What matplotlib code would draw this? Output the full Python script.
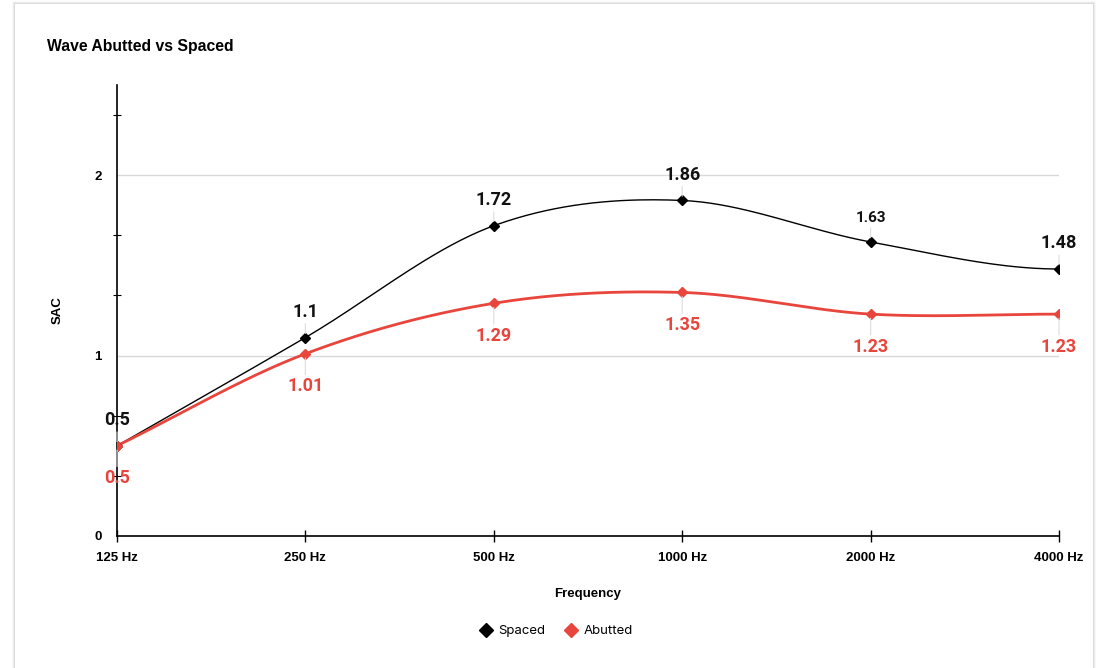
import numpy as np
import matplotlib.pyplot as plt
from matplotlib.lines import Line2D
from matplotlib.patches import Rectangle

FREQS = ["125 Hz", "250 Hz", "500 Hz", "1000 Hz", "2000 Hz", "4000 Hz"]
SPACED = [0.5, 1.1, 1.72, 1.86, 1.63, 1.48]
ABUTTED = [0.5, 1.01, 1.29, 1.35, 1.23, 1.23]
SPACED_LABEL_SIZES = [13, 13, 13, 13, 11, 13]

BLACK = "#000000"
RED = "#e8453c"


def smooth(y, n=40):
    # catmull-rom style cubic hermite through the points
    y = np.asarray(y, dtype=float)
    x = np.arange(len(y), dtype=float)
    m = np.zeros_like(y)
    m[1:-1] = (y[2:] - y[:-2]) / 2
    m[0] = y[1] - y[0]
    m[-1] = 0.0
    xs, ys = [], []
    for i in range(len(y) - 1):
        t = np.linspace(0, 1, n, endpoint=(i == len(y) - 2))
        h00 = 2 * t**3 - 3 * t**2 + 1
        h10 = t**3 - 2 * t**2 + t
        h01 = -2 * t**3 + 3 * t**2
        h11 = t**3 - t**2
        xs.append(x[i] + t)
        ys.append(h00 * y[i] + h10 * m[i] + h01 * y[i + 1] + h11 * m[i + 1])
    return np.concatenate(xs), np.concatenate(ys)


fig = plt.figure(figsize=(10.97, 6.68), dpi=100)
fig.patch.set_facecolor("white")

# card with a soft shadow
for k, a in enumerate([0.05, 0.09, 0.14]):
    off = (3 - k) / 1097
    fig.patches.append(Rectangle((15 / 1097 - off, -0.1), (1093 - 15) / 1097 + 2 * off,
                                 1.1 - 4 / 668 + off * 1097 / 668,
                                 transform=fig.transFigure, facecolor="#777777",
                                 edgecolor="none", alpha=a, zorder=-3))
fig.patches.append(Rectangle((15 / 1097, -0.1), (1093 - 15) / 1097, 1.1 - 4 / 668,
                             transform=fig.transFigure, facecolor="white",
                             edgecolor="none", zorder=-2))

ax = fig.add_axes([117 / 1097, 1 - 536 / 668, (1059 - 117) / 1097, (536 - 85) / 668])
ax.set_facecolor("none")
x = np.arange(len(FREQS))

sx, sy = smooth(SPACED)
ax.plot(sx, sy, color=BLACK, lw=1.0, zorder=3)
ax.plot(x, SPACED, linestyle="none", marker="D", ms=5.5, color=BLACK, zorder=4)
ax_, ay = smooth(ABUTTED)
ax.plot(ax_, ay, color=RED, lw=2.0, zorder=3)
ax.plot(x, ABUTTED, linestyle="none", marker="D", ms=5.5, color=RED, zorder=4)

for i, v in enumerate(SPACED):
    ax.annotate(f"{v:g}", (x[i], v), xytext=(0, 12), textcoords="offset points",
                ha="center", va="bottom", fontsize=SPACED_LABEL_SIZES[i], fontweight="bold",
                family="Roboto", color="#111111", zorder=5,
                arrowprops=dict(arrowstyle="-", color="#dddddd", lw=0.8,
                                shrinkA=0, shrinkB=3))
for i, v in enumerate(ABUTTED):
    ax.annotate(f"{v:g}", (x[i], v), xytext=(0, -17), textcoords="offset points",
                ha="center", va="top", fontsize=13, fontweight="bold",
                family="Roboto", color=RED, zorder=5,
                arrowprops=dict(arrowstyle="-", color="#dddddd", lw=0.8,
                                shrinkA=0, shrinkB=3))

ax.set_xlim(0, len(FREQS) - 1)
ax.set_ylim(0, 2.5)
ax.set_xticks(x)
ax.set_xticklabels(FREQS)
ax.set_yticks([0, 1, 2])
ax.set_yticklabels(["0", "1", "2"])
ax.set_yticks([1 / 3, 2 / 3, 4 / 3, 5 / 3, 7 / 3], minor=True)
ax.grid(axis="y", which="major", color="#d9d9d9", lw=1.0, zorder=1)
ax.tick_params(axis="y", which="major", length=0, pad=11)
ax.tick_params(axis="y", which="minor", direction="inout", length=6, width=0.8)
ax.tick_params(axis="x", direction="inout", length=9, width=1.0, pad=7)
for lab in ax.get_xticklabels() + ax.get_yticklabels():
    lab.set_fontfamily("Liberation Sans")
    lab.set_fontweight("bold")
    lab.set_fontsize(9.5)

ax.spines["top"].set_visible(False)
ax.spines["right"].set_visible(False)
ax.spines["left"].set_linewidth(1.2)
ax.spines["bottom"].set_linewidth(1.2)
ax.spines["bottom"].set_zorder(2)

ax.set_xlabel("Frequency", family="Liberation Sans", fontweight="bold", fontsize=9.5, labelpad=17.5)
ax.set_ylabel("SAC", family="Liberation Sans", fontweight="bold", fontsize=9.5, labelpad=22)

fig.text(47 / 1097, 1 - 46 / 668, "Wave Abutted vs Spaced", family="Liberation Sans",
         fontweight="bold", fontsize=11.3, va="center", ha="left")

handles = [Line2D([], [], linestyle="none", marker="D", ms=7, color=BLACK),
           Line2D([], [], linestyle="none", marker="D", ms=7, color=RED)]
fig.legend(handles, ["Spaced", "Abutted"], loc="center", bbox_to_anchor=(556 / 1097, 1 - 631 / 668),
           ncol=2, frameon=False, prop={"family": "Inter", "size": 9.5},
           handletextpad=0.4, columnspacing=1.5, handlelength=1.0)

fig.savefig("out.png", dpi=100)
